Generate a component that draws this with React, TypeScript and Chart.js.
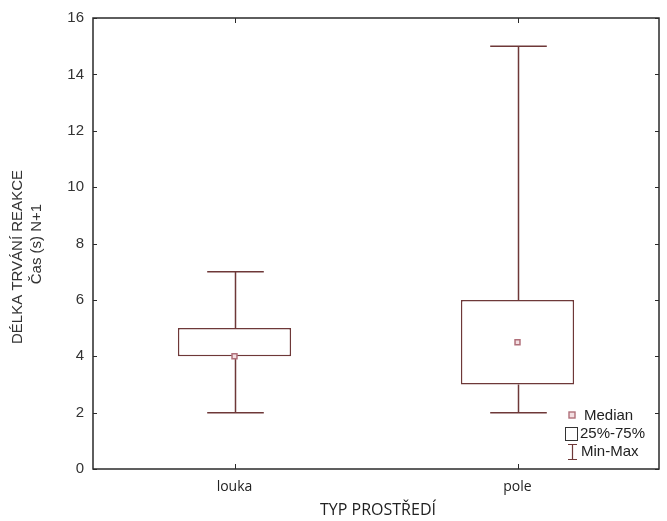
import React, { useEffect, useRef } from "react";
import { Chart, registerables } from "chart.js";

Chart.register(...registerables);

// Reaction duration by environment type (box plot: min, quartiles, median, max)
const categories = ["louka", "pole"];
const minValues = [2, 2];
const q1Values = [4, 3];
const medianValues = [4, 4.5];
const q3Values = [5, 6];
const maxValues = [7, 15];
const yTicks = [0, 2, 4, 6, 8, 10, 12, 14, 16];

const BOX_COLOR = "#6e3838";
const MEDIAN_STROKE = "#b0707a";
const MEDIAN_FILL = "#f3dfe2";
const FRAME_COLOR = "#2a2a2a";
const TEXT_COLOR = "#333333";

const boxPlotPlugin = {
  id: "boxPlotExtras",
  beforeDatasetsDraw(chart: any) {
    const { ctx, scales } = chart;
    const x = scales.x;
    const y = scales.y;
    const catWidth = x.getPixelForValue(1) - x.getPixelForValue(0);
    const capHalf = catWidth * 0.1;
    ctx.save();
    ctx.strokeStyle = BOX_COLOR;
    ctx.lineWidth = 1.5;
    categories.forEach((_, i) => {
      const cx = Math.round(x.getPixelForValue(i)) + 0.5;
      const yMin = y.getPixelForValue(minValues[i]);
      const yMax = y.getPixelForValue(maxValues[i]);
      const yQ1 = y.getPixelForValue(q1Values[i]);
      const yQ3 = y.getPixelForValue(q3Values[i]);
      ctx.beginPath();
      ctx.moveTo(cx, yQ3);
      ctx.lineTo(cx, yMax);
      ctx.moveTo(cx - capHalf, yMax);
      ctx.lineTo(cx + capHalf, yMax);
      ctx.moveTo(cx, yQ1);
      ctx.lineTo(cx, yMin);
      ctx.moveTo(cx - capHalf, yMin);
      ctx.lineTo(cx + capHalf, yMin);
      ctx.stroke();
    });
    ctx.restore();
  },
  afterDraw(chart: any) {
    const { ctx, chartArea, scales } = chart;
    const { left, right, top, bottom } = chartArea;
    const x = scales.x;
    const y = scales.y;
    ctx.save();
    // frame
    ctx.strokeStyle = FRAME_COLOR;
    ctx.lineWidth = 1.5;
    ctx.strokeRect(left, top, right - left, bottom - top);
    // inward ticks
    ctx.lineWidth = 1;
    ctx.beginPath();
    yTicks.forEach((v) => {
      const py = Math.round(y.getPixelForValue(v)) + 0.5;
      ctx.moveTo(left, py);
      ctx.lineTo(left + 4, py);
      ctx.moveTo(right, py);
      ctx.lineTo(right - 4, py);
    });
    categories.forEach((_, i) => {
      const px = Math.round(x.getPixelForValue(i)) + 0.5;
      ctx.moveTo(px, bottom);
      ctx.lineTo(px, bottom - 5);
      ctx.moveTo(px, top);
      ctx.lineTo(px, top + 5);
    });
    ctx.stroke();

    // axis titles
    ctx.fillStyle = TEXT_COLOR;
    ctx.textAlign = "center";
    ctx.textBaseline = "middle";
    ctx.font = "15px 'Liberation Sans', Arial, sans-serif";
    ctx.save();
    ctx.translate(18, 257);
    ctx.rotate(-Math.PI / 2);
    ctx.fillText("DÉLKA TRVÁNÍ REAKCE", 0, 0);
    ctx.restore();
    ctx.save();
    ctx.translate(37, 244);
    ctx.rotate(-Math.PI / 2);
    ctx.fillText("Čas (s) N+1", 0, 0);
    ctx.restore();
    ctx.font = "16px 'Open Sans', sans-serif";
    ctx.fillStyle = "#222";
    ctx.fillText("TYP PROSTŘEDÍ", 378, 510);

    // legend
    const lx = right - 87;
    ctx.font = "15px 'Liberation Sans', Arial, sans-serif";
    ctx.textAlign = "left";
    // median symbol
    ctx.fillStyle = MEDIAN_FILL;
    ctx.fillRect(lx - 3, 412, 6, 6);
    ctx.strokeStyle = MEDIAN_STROKE;
    ctx.lineWidth = 1.4;
    ctx.strokeRect(lx - 3, 412, 6, 6);
    ctx.fillStyle = "#222";
    ctx.fillText("Median", lx + 12, 416);
    // 25%-75% symbol
    ctx.strokeStyle = "#333";
    ctx.lineWidth = 1;
    ctx.strokeRect(lx - 6.5, 427.5, 12, 13);
    ctx.fillText("25%-75%", lx + 8, 434);
    // min-max symbol
    ctx.strokeStyle = BOX_COLOR;
    ctx.lineWidth = 1.2;
    ctx.beginPath();
    ctx.moveTo(lx - 4, 444.5);
    ctx.lineTo(lx + 5, 444.5);
    ctx.moveTo(lx + 0.5, 444.5);
    ctx.lineTo(lx + 0.5, 459.5);
    ctx.moveTo(lx - 4, 459.5);
    ctx.lineTo(lx + 5, 459.5);
    ctx.stroke();
    ctx.fillText("Min-Max", lx + 9, 452);
    ctx.restore();
  },
};

export default function App() {
  const canvasRef = useRef<HTMLCanvasElement | null>(null);

  useEffect(() => {
    if (!canvasRef.current) return;
    const chart = new Chart(canvasRef.current, {
      type: "bar",
      data: {
        labels: categories,
        datasets: [
          {
            type: "bar",
            label: "25%-75%",
            data: categories.map((_, i) => [q1Values[i], q3Values[i]]) as any,
            backgroundColor: "#ffffff",
            borderColor: BOX_COLOR,
            borderWidth: 1.5,
            borderSkipped: false,
            barPercentage: 0.4,
            categoryPercentage: 1,
            order: 2,
          },
          {
            type: "line",
            label: "Median",
            data: medianValues,
            showLine: false,
            pointStyle: "rect",
            pointRadius: 3.5,
            pointBorderWidth: 1.5,
            pointBackgroundColor: MEDIAN_FILL,
            pointBorderColor: MEDIAN_STROKE,
            order: 1,
          } as any,
        ],
      },
      options: {
        animation: false,
        responsive: false,
        devicePixelRatio: 1,
        layout: { padding: { left: 0, right: 8, top: 16, bottom: 0 } },
        plugins: {
          legend: { display: false },
          tooltip: { enabled: false },
          title: { display: false },
        },
        scales: {
          x: {
            grid: { display: false, drawTicks: false },
            border: { display: false },
            ticks: {
              color: "#222",
              padding: 10,
              font: { family: "'Open Sans', sans-serif", size: 14 },
            },
            afterFit: (scale: any) => {
              scale.height = 52;
            },
          },
          y: {
            min: 0,
            max: 16,
            grid: { display: false, drawTicks: false },
            border: { display: false },
            ticks: {
              stepSize: 2,
              color: TEXT_COLOR,
              padding: 9,
              font: { family: "'Liberation Sans', Arial, sans-serif", size: 15 },
            },
            afterFit: (scale: any) => {
              scale.width = 93;
            },
          },
        },
      },
      plugins: [boxPlotPlugin],
    });
    return () => chart.destroy();
  }, []);

  return (
    <div style={{ position: "fixed", left: 0, top: 0, width: 667, height: 521, background: "#fff" }}>
      <canvas ref={canvasRef} width={667} height={521} style={{ display: "block" }} />
    </div>
  );
}
